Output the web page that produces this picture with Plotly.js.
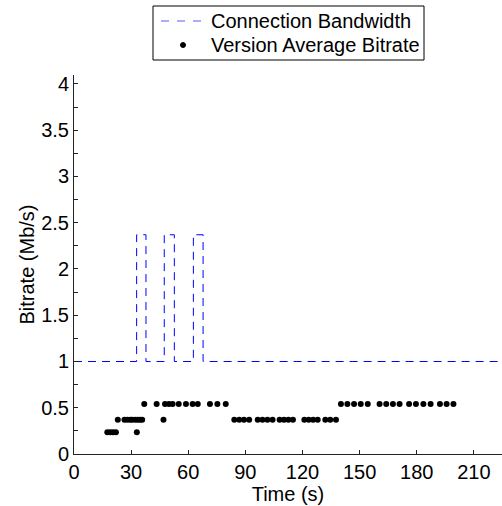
<!DOCTYPE html>
<html>
<head>
<meta charset="utf-8">
<script src="https://cdn.plot.ly/plotly-3.0.1.min.js"></script>
<style>html,body{margin:0;padding:0;background:#fff;}#chart{width:502px;height:506px;}</style>
</head>
<body>
<div id="chart"></div>
<script>
// Connection bandwidth (step function, Mb/s)
var bwTime  = [0, 32.9, 37.8, 47.4, 52.7, 62.7, 67.8, 225];
var bwValue = [1, 2.37, 1, 2.37, 1, 2.37, 1, 1];

// Version average bitrate samples (Mb/s)
var lowTime = [17.5, 19, 20.5, 22, 33];
var lowRate = [0.235, 0.235, 0.235, 0.235, 0.235];

var midTime = [23, 26.5, 28, 29.5, 30.6, 32.2, 33.5, 34.7, 35.8, 47,
               84.2, 86.8, 89.3, 92, 96.5, 99, 101.6, 104.3,
               108, 110.3, 112.6, 115, 121, 123.3, 125.6, 128, 132, 134.6, 137.6];
var midRate = [0.37, 0.37, 0.37, 0.37, 0.37, 0.37, 0.37, 0.37, 0.37, 0.37,
               0.37, 0.37, 0.37, 0.37, 0.37, 0.37, 0.37, 0.37,
               0.37, 0.37, 0.37, 0.37, 0.37, 0.37, 0.37, 0.37, 0.37, 0.37, 0.37];

var highTime = [36.9, 43.4, 47.8, 49.9, 51.8, 55.0, 58.8, 62.3, 65.0, 71.4, 75.3, 79.7,
                140.2, 143.6, 147.1, 150.6, 154.3, 160.5, 164, 167.5, 171,
                176, 179.6, 183.5, 187.3, 192.2, 195.7, 199.3];
var highRate = [0.54, 0.54, 0.54, 0.54, 0.54, 0.54, 0.54, 0.54, 0.54, 0.54, 0.54, 0.54,
                0.54, 0.54, 0.54, 0.54, 0.54, 0.54, 0.54, 0.54, 0.54,
                0.54, 0.54, 0.54, 0.54, 0.54, 0.54, 0.54];

var xTicks = [0, 30, 60, 90, 120, 150, 180, 210];
var yTicks = [0, 0.5, 1, 1.5, 2, 2.5, 3, 3.5, 4];
var yTickText = ['0', '0.5', '1', '1.5', '2', '2.5', '3', '3.5', '4'];

var seriesNames = ['Connection Bandwidth', 'Version Average Bitrate'];

var verTime = lowTime.concat(midTime, highTime);
var verRate = lowRate.concat(midRate, highRate);

var FONT = 'Liberation Sans, Arial, sans-serif';
var BLUE = '#0000ff';

// plot area geometry (pixels) used only to place the hand-drawn legend box
var L = 74, T = 75, W = 428, H = 379;
function px(x) { return (x - L) / W; }
function py(y) { return (T + H - y) / H; }

var traces = [
  {
    x: bwTime, y: bwValue, type: 'scatter', mode: 'lines',
    name: seriesNames[0],
    line: {color: BLUE, width: 1, dash: '8px,6px', shape: 'hv'}
  },
  {
    x: verTime, y: verRate, type: 'scatter', mode: 'markers',
    name: seriesNames[1],
    marker: {color: '#000000', size: 6, symbol: 'circle'}
  }
];

var layout = {
  width: 502, height: 506,
  margin: {l: L, r: 502 - L - W, t: T, b: 506 - T - H, pad: 0},
  paper_bgcolor: '#ffffff', plot_bgcolor: '#ffffff',
  font: {family: FONT, size: 20, color: '#000000'},
  showlegend: false,
  xaxis: {
    range: [0, 224.8], autorange: false,
    tickmode: 'array', tickvals: xTicks, ticktext: xTicks.map(String),
    ticks: 'inside', ticklen: 4, tickcolor: '#222', tickwidth: 1,
    showline: true, linecolor: '#222', linewidth: 1,
    showgrid: false, zeroline: false, mirror: false,
    title: {text: 'Time (s)', font: {family: FONT, size: 20, color: '#000'}, standoff: 0},
    automargin: false
  },
  yaxis: {
    range: [0, 4.097], autorange: false,
    tickmode: 'array', tickvals: yTicks, ticktext: yTickText,
    ticks: 'inside', ticklen: 4, tickcolor: '#222', tickwidth: 1,
    minor: {dtick: 0.25, tick0: 0, ticks: 'inside', ticklen: 4, tickcolor: '#222', showgrid: false},
    showline: true, linecolor: '#222', linewidth: 1,
    showgrid: false, zeroline: false, mirror: false,
    title: {text: 'Bitrate (Mb/s)', font: {family: FONT, size: 20, color: '#000'}, standoff: 1},
    automargin: false
  },
  shapes: [
    {type: 'rect', xref: 'paper', yref: 'paper', layer: 'above',
     x0: px(153), x1: px(424), y0: py(60), y1: py(6),
     line: {color: '#000', width: 1}, fillcolor: '#ffffff'},
    {type: 'line', xref: 'paper', yref: 'paper', layer: 'above',
     x0: px(161), x1: px(205), y0: py(21), y1: py(21),
     line: {color: '#5b5bff', width: 1.2, dash: '8px,8px'}},
    {type: 'circle', xref: 'paper', yref: 'paper', layer: 'above',
     x0: px(180.5), x1: px(185.5), y0: py(47.5), y1: py(42.5),
     line: {color: '#000', width: 1}, fillcolor: '#000'}
  ],
  annotations: [
    {xref: 'paper', yref: 'paper', x: px(209), y: py(21), xanchor: 'left', yanchor: 'middle',
     text: seriesNames[0], showarrow: false, font: {family: FONT, size: 20, color: '#000'}},
    {xref: 'paper', yref: 'paper', x: px(209), y: py(45), xanchor: 'left', yanchor: 'middle',
     text: seriesNames[1], showarrow: false, font: {family: FONT, size: 20, color: '#000'}}
  ]
};

Plotly.newPlot('chart', traces, layout, {displayModeBar: false, staticPlot: true});
</script>
</body>
</html>
